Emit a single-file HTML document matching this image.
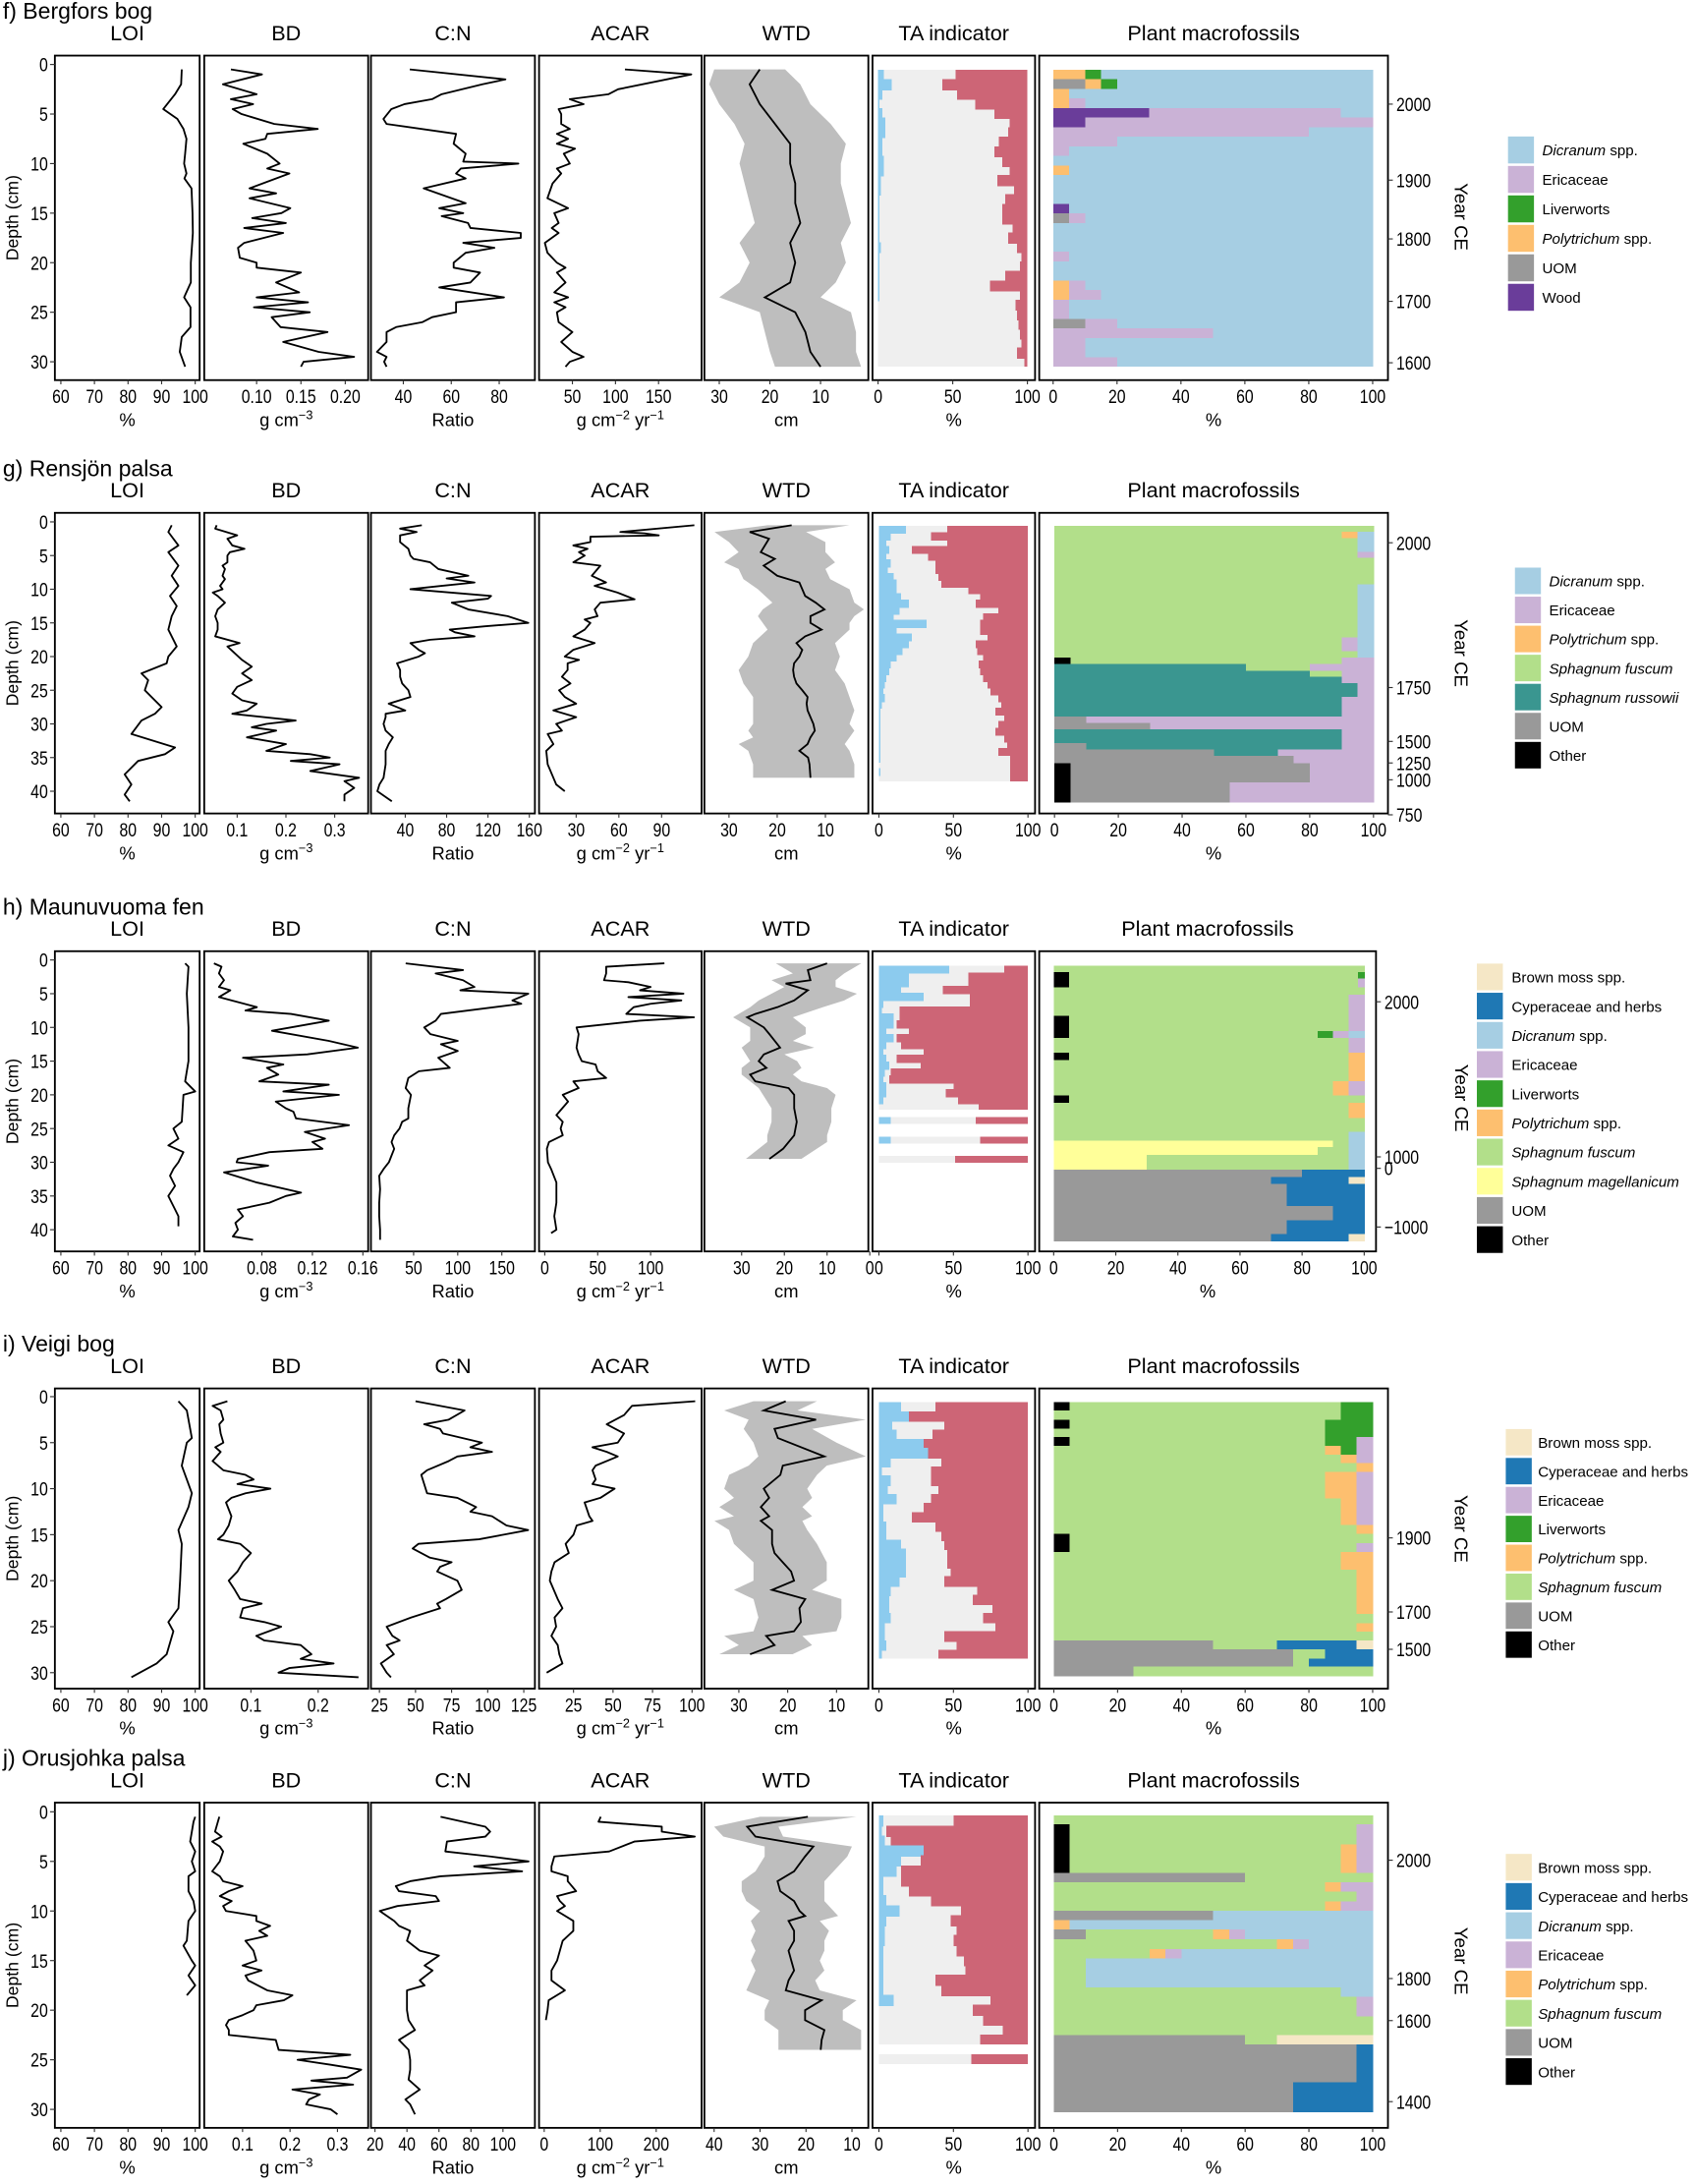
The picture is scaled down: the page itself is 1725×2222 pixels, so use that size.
<!DOCTYPE html>
<html><head><meta charset="utf-8"><title>Peat core profiles</title>
<style>html,body{margin:0;padding:0;background:#fff}svg{display:block}</style></head>
<body>
<svg id="chart" xmlns="http://www.w3.org/2000/svg" width="1725" height="2222" viewBox="0 0 1220 1571.4" preserveAspectRatio="none" font-family="Liberation Sans, Arial, sans-serif"></svg>
<script>
// ---------------- DATA ----------------
const LOITicks=[60,70,80,90,100];
const TATicks=[0,50,100];
const PlantTicks=[0,20,40,60,80,100];
// Row f
const fDepthTicks=[0,5,10,15,20,25,30];
const fBDTicks=[0.10,0.15,0.20]; const fBDLabels=['0.10','0.15','0.20'];
const fCNTicks=[40,60,80]; const fACARTicks=[50,100,150]; const fWTDTicks=[30,20,10];
const fYearDepth=[4.0,11.67,17.6,23.9,30.1]; const fYearLabels=['2000','1900','1800','1700','1600'];
const fLOI=[[0.5,96],[2,95.8],[3,94],[4.5,90.5],[5.5,94.7],[6.5,96.5],[7.5,97.4],[9,97],[10,96.7],[11,97.4],[11.5,96.8],[12.5,98.9],[15,99.2],[17,99.3],[20,98.7],[22,98.7],[23.5,96.7],[24.5,98.6],[26.5,98.6],[27.5,96],[29,95.4],[30.5,97]];
const fBD=[[0.5,0.071],[1,0.106],[2,0.062],[3,0.1],[3.5,0.071],[4,0.096],[4.5,0.073],[5,0.083],[6,0.12],[6.5,0.169],[7,0.112],[7.5,0.11],[8,0.085],[9,0.112],[10,0.126],[10.5,0.112],[11,0.137],[12.5,0.092],[13,0.122],[13.5,0.092],[14.5,0.138],[15,0.128],[15.5,0.095],[16,0.133],[16.5,0.086],[17,0.13],[18,0.086],[18.5,0.079],[19.5,0.081],[20,0.1],[20.5,0.1],[21,0.15],[22,0.122],[23,0.148],[23.5,0.1],[24,0.158],[24.5,0.097],[25,0.16],[25.5,0.117],[26.5,0.127],[27,0.18],[28,0.13],[29,0.17],[29.5,0.21],[30,0.153],[30.5,0.15]];
const fCN=[[0.5,42.7],[1.5,82.6],[2,73],[3,56],[3.5,52],[4,40.5],[4.5,35],[5.5,31.7],[6,33],[7,62],[8,61],[9,66],[9.8,65],[10,88],[10.5,64],[11,62],[11.5,66],[12.5,48.5],[14,66],[14.5,55],[15,65],[15.3,56],[16,67],[16.5,68],[17,89],[17.5,89],[18,65],[18.5,78],[19,66],[20,61],[20.5,61],[21,72],[22,68],[22.5,55],[23.5,82],[24,62],[25,62],[25.5,52],[26,48],[26.5,37],[27,33],[28,33],[29,29],[29.5,33],[30,32],[30.5,33]];
const fACAR=[[0.5,111],[1,188],[2.5,103],[3,92],[3.5,47],[4,63],[4.5,34],[5,37],[6,37],[6.5,47],[7,32],[7.5,45],[8,32],[8.5,53],[9,40],[10,47],[10.5,32],[11,37],[12,27],[13.5,21],[14.5,45],[15,29],[16,34],[16.5,26],[17,34],[18,18],[19,21],[20,32],[20.5,42],[21,32],[22,42],[23,29],[23.5,45],[24,29],[24.5,42],[25,32],[26,34],[27,50],[28,37],[29,50],[29.5,63],[30,47],[30.5,42]];
const fWTDMean=[[0.5,22],[2,24],[4,22],[6,19],[8,16],[10,16],[12,15],[14,15],[16,14],[18,16],[20,15],[22,16],[23.5,21],[25,15],[27,13],[29,12],[30.5,10]];
const fWTDLeft=[[0.5,31],[2,32],[4,30],[6,27],[8,25],[10,26],[12,25],[14,24],[16,23],[18,26],[20,24],[22,26],[23.5,30],[25,22],[27,21],[29,20],[30.5,19]];
const fWTDRight=[[0.5,17],[2,14],[4,12],[6,8],[8,5],[10,6],[12,6],[14,5],[16,4],[18,6],[20,5],[22,7],[23.5,10],[25,4],[27,3],[29,3],[30.5,2]];
const fTARed=[52,43,53,65,78,88,87,81,78,83,88,80,91,85,83,83,90,87,93,96,95,85,75,95,92,93,94,95,96,93,98];
const fTABlue=[4,9,3,1,3,5,5,3,3,4,4,2,2,1,1,1,1,1,2,1,1,1,1,1,0,0,0,0,0,0,0];
const fPlant=[{Pol:10,Liv:5,Dic:85},{UOM:10,Pol:5,Liv:5,Dic:80},{Pol:5,Dic:95},{Pol:5,Eri:5,Dic:90},{Woo:30,Eri:60,Dic:10},{Woo:10,Eri:90},{Eri:80,Dic:20},{Eri:20,Dic:80},{Eri:5,Dic:95},{Dic:100},{Pol:5,Dic:95},{Dic:100},{Dic:100},{Dic:100},{Woo:5,Dic:95},{UOM:5,Eri:5,Dic:90},{Dic:100},{Dic:100},{Dic:100},{Eri:5,Dic:95},{Dic:100},{Dic:100},{Pol:5,Eri:5,Dic:90},{Pol:5,Eri:10,Dic:85},{Eri:5,Dic:95},{Eri:5,Dic:95},{UOM:10,Eri:10,Dic:80},{Eri:50,Dic:50},{Eri:10,Dic:90},{Eri:10,Dic:90},{Eri:20,Dic:80}];
// Row g
const gDepthTicks=[0,5,10,15,20,25,30,35,40];
const gBDTicks=[0.1,0.2,0.3]; const gBDLabels=['0.1','0.2','0.3'];
const gCNTicks=[40,80,120,160]; const gACARTicks=[30,60,90]; const gWTDTicks=[30,20,10];
const gYearDepth=[3.1,24.6,32.6,35.8,38.3,43.5]; const gYearLabels=['2000','1750','1500','1250','1000','750'];
const gLOI=[[0.5,93],[1.5,92],[3.5,95],[4.5,92],[6.5,95],[8,93],[9.5,95],[11,92.5],[12.5,94.5],[14,93],[16,92],[18.5,94.5],[20,92],[21,91.5],[22.5,84],[23.5,86],[25,85],[26,87],[27.5,90],[28.5,88],[29.5,84],[31.5,81],[33.5,94],[34.5,91],[35.5,83],[37.5,79],[39,81],[40.5,79],[41.5,80.5]];
const gBD=[[0.5,0.058],[1,0.055],[2,0.1],[2.5,0.08],[3.5,0.09],[4,0.115],[4.5,0.085],[5,0.08],[6,0.08],[6.5,0.07],[7,0.075],[8,0.07],[8.5,0.075],[9.5,0.065],[10,0.07],[10.5,0.05],[11,0.06],[12,0.075],[13,0.06],[14,0.055],[15,0.06],[16,0.06],[17,0.055],[18,0.105],[18.5,0.08],[19.5,0.095],[20.5,0.11],[21.5,0.13],[22.5,0.11],[23.5,0.13],[24.5,0.1],[25,0.095],[25.5,0.09],[26.5,0.11],[27,0.14],[28,0.12],[28.5,0.09],[29.5,0.22],[30,0.16],[30.5,0.13],[31,0.18],[32,0.12],[33,0.2],[34,0.16],[34.5,0.25],[35,0.29],[35.5,0.21],[36,0.31],[37,0.25],[38,0.35],[38.5,0.32],[39,0.33],[39.5,0.34],[40.5,0.32],[41.5,0.32]];
const gCN=[[0.5,56],[1,35],[1.5,51],[2,35],[3,35],[4,43],[5,45],[5.5,48],[6,64],[7,72],[8,101],[8.4,80],[9,107],[9.5,75],[10,45],[11,123],[11.4,120],[12,85],[13,101],[14,139],[15,159],[15.5,117],[16,83],[16.4,88],[17,107],[17.5,64],[18,45],[19,53],[19.5,59],[20,53],[21,32],[22,35],[23,35],[24,37],[25,43],[26,45],[27,24],[28,40],[28.5,21],[29,21],[30,19],[31,21],[32,28],[33,24],[34,21],[36,21],[38,19],[39,15],[40,13],[41.5,27]];
const gACAR=[[0.5,113],[1.5,61],[1.7,78],[2,88],[2.2,40],[3,40],[3.5,28],[4,38],[4.5,32],[5,36],[6,28],[6.5,47],[8,41],[9,51],[9.5,43],[10.5,59],[11.5,71],[12,47],[13,43],[14,45],[14.5,36],[15,40],[16,36],[17,28],[18,43],[19,28],[20,22],[20.5,32],[21,24],[22,24],[23,20],[24,26],[25,18],[26,22],[27,30],[28,14],[29,30],[30,16],[31,20],[31.5,10],[33,14],[34,9],[36,10],[37,12],[38,14],[39,16],[40,22]];
const gWTDMean=[[0.5,17],[1.5,25.7],[2.5,21.7],[4.5,23.4],[5.5,20.5],[6.5,22.8],[8,20],[9,15.4],[10,14.8],[11,14.2],[12,12],[13,10.2],[14,13.1],[15,13.1],[16,10.8],[17,14.2],[18,16],[19,14.8],[20,15.4],[21,16.5],[22,16.7],[23,16.5],[24,16],[25,14.8],[26,13.7],[27,13.9],[28,13.7],[29,13.1],[30,12.5],[31,12.2],[32,13.1],[33,13.7],[34,15.4],[35,13.6],[36,13.3],[38,13.1]];
const gWTDLeft=[[0.5,22],[1.5,33],[3,30],[4.5,28],[6,31],[7,28],[8.5,27],[10,24],[12,21],[13,23],[14,24],[15,23],[16,22],[18,25],[20,26],[22,28],[24,27],[26,25],[28,25],[30,25],[31,26],[32,25],[33,28],[34,26],[36,25],[38,25]];
const gWTDRight=[[0.5,5],[1.5,14],[3,10],[4.5,10],[6,8],[7,10],[8.5,9],[10,5],[12,4],[13,2],[14,4],[15,5],[16,5],[18,8],[20,7],[22,8],[24,6],[26,5],[28,4],[30,5],[31,4],[32,5],[33,6],[34,5],[36,4],[38,4]];
const gTARed=[46,35,46,22,33,38,38,40,42,60,68,65,80,70,68,68,73,65,66,70,67,68,70,73,75,80,82,78,84,80,78,84,86,80,88,88,88,88];
const gTABlue=[18,8,5,7,5,8,6,10,12,12,15,20,14,10,32,12,22,20,16,12,8,7,5,4,3,4,2,1,1,1,1,1,1,1,1,0,1,0];
const gPlantEdges=[0.56,1.46,2.43,4.45,5.35,9.31,17.15,19.17,20.14,21.12,22.09,22.98,23.96,25.97,28.89,29.86,30.83,32.85,33.82,34.72,35.84,38.68,41.67];
const gPlant=[{Sfu:100},{Sfu:90,Pol:5,Dic:5},{Sfu:95,Dic:5},{Sfu:95,Eri:5},{Sfu:100},{Sfu:95,Dic:5},{Sfu:90,Eri:5,Dic:5},{Sfu:95,Dic:5},{Oth:5,Sfu:85,Eri:10},{Sru:60,Sfu:20,Eri:20},{Sru:80,Sfu:10,Eri:10},{Sru:90,Eri:10},{Sru:95,Eri:5},{Sru:90,Eri:10},{UOM:10,Eri:90},{UOM:30,Eri:70},{Sru:90,Eri:10},{UOM:10,Sru:80,Eri:10},{UOM:50,Sru:20,Eri:30},{UOM:75,Eri:25},{Oth:5,UOM:75,Eri:20},{Oth:5,UOM:50,Eri:45}];
// Row h
const hDepthTicks=[0,5,10,15,20,25,30,35,40];
const hBDTicks=[0.08,0.12,0.16]; const hBDLabels=['0.08','0.12','0.16'];
const hCNTicks=[50,100,150]; const hACARTicks=[0,50,100]; const hWTDTicks=[30,20,10,0];
const hYearDepth=[6.2,29.2,30.9,39.6]; const hYearLabels=['2000','1000','0','\u22121000'];
const hLOI=[[0.5,97],[1,98],[5,97.5],[10,98],[15,98],[18,97],[19.5,100],[20,96.5],[24,96],[25,93.5],[26.5,95],[27.5,92],[28.5,96.5],[30,95],[31,93.5],[32,92.5],[33.5,94],[35,92],[35.5,92.5],[37,94],[38,95],[39.5,95]];
const hBD=[[0.5,0.042],[1,0.048],[2,0.046],[3,0.05],[4,0.046],[4.5,0.055],[5.5,0.046],[7,0.076],[7.5,0.067],[8,0.103],[9,0.133],[10.5,0.088],[12,0.133],[13,0.156],[14,0.116],[14.5,0.065],[15.5,0.097],[16,0.084],[17,0.093],[18,0.078],[18.5,0.133],[19.5,0.097],[20,0.141],[21,0.091],[22,0.099],[22.5,0.105],[23.5,0.107],[24.5,0.149],[25.5,0.114],[26.5,0.13],[27,0.12],[28,0.128],[28.5,0.086],[29.5,0.061],[30,0.06],[30.5,0.085],[31.5,0.05],[33,0.076],[34.5,0.111],[35,0.099],[36,0.086],[37,0.061],[38,0.065],[39,0.059],[40,0.061],[41,0.057],[41.5,0.073]];
const hCN=[[0.5,41],[1.5,106],[2,75],[3,106],[4,119],[4.5,103],[5,180],[6,162],[6.5,172],[8,81],[9,75],[10,62],[11,69],[12,100],[12.5,81],[13.5,100],[14.5,78],[16,91],[16.5,56],[17.5,44],[19,41],[20,47],[22,44],[23.5,44],[24,37],[25,34],[26,28],[27,25],[28,28],[29,25],[30,22],[31,16],[32,11],[34,12],[36,11],[38,11],[40,12],[41.5,12]];
const hACAR=[[0.5,113],[1,58],[2,58],[3,56],[3.3,79],[4,100],[4.5,90],[5,131],[5.5,79],[6,129],[6.5,100],[7,84],[8,77],[8.5,141],[9,90],[10,30],[11,32],[13,30],[14,32],[15,35],[15.5,48],[16.5,50],[17.5,58],[18,27],[19,32],[20,17],[21,22],[23,11],[24,17],[25,15],[26,17],[27,4],[28,2],[30,3],[31,6],[33,11],[36,11],[38,9],[40,11],[40.5,6]];
const hWTDMean=[[0.5,10],[1.5,14.5],[3,13.9],[3.5,19.7],[4.5,14.5],[6,17.7],[7,21.6],[8,26.8],[8.5,28.7],[10,24.8],[11,23.5],[13,21],[14,24.8],[15,26],[16,24.2],[17,28],[18,26.8],[19,19],[20,17.7],[22,17.7],[24,17.1],[26,17.7],[28,20.3],[29.5,23.5]];
const hWTDLeft=[[0.5,22],[2,18],[3,23],[4,20],[5,23],[6,26],[7,28],[8.5,32],[10,28],[11,28],[12,28],[13,30],[14,29],[15,28],[16,30],[17,30],[18,28],[19,26],[20,25],[22,23],[24,23],[26,24],[27,24],[29.5,29]];
const hWTDRight=[[0.5,2],[2,6],[3,8],[4,8],[5,3],[6,6],[7,11],[8.5,18],[10,15],[11,15],[12,18],[13,13],[14,20],[15,17],[16,16],[17,18],[18,16],[19,10],[20,8],[22,9],[24,9],[26,10],[27,10],[29.5,16]];
const hTARed=[84,60,60,43,61,61,14,14,12,20,12,15,30,12,28,8,7,50,45,53,67];
const hTABlue=[47,20,20,15,30,3,2,10,10,5,10,5,3,5,7,4,3,5,5,3,0];
const hTAExtraTop=[23.3,26.2,29.04]; const hTAExtraRed=[65,68,51]; const hTAExtraBlue=[8,8,0];
const hPlantEdges=[0.82,1.79,2.76,4.03,5.15,8.28,10.52,11.57,13.73,14.85,17.99,20.08,21.2,23.43,25.45,26.79,27.76,28.88,31.12,32.17,33.21,34.26,36.5,38.59,40.67,41.72];
const hPlant=[{Sfu:100},{Oth:5,Sfu:93,Liv:2},{Oth:5,Sfu:93,Eri:2},{Sfu:100},{Sfu:95,Eri:5},{Oth:5,Sfu:90,Eri:5},{Oth:5,Sfu:80,Liv:5,Eri:5,Dic:5},{Sfu:95,Eri:5},{Oth:5,Sfu:90,Pol:5},{Sfu:95,Pol:5},{Sfu:90,Pol:5,Eri:5},{Oth:5,Sfu:95},{Sfu:95,Pol:5},{Sfu:100},{Sfu:95,Dic:5},{Sma:90,Sfu:5,Dic:5},{Sma:85,Sfu:10,Dic:5},{Sma:30,Sfu:65,Dic:5},{UOM:80,Cyp:20},{UOM:70,Cyp:25,Bro:5},{UOM:75,Cyp:25},{UOM:75,Cyp:25},{UOM:90,Cyp:10},{UOM:75,Cyp:25},{UOM:70,Cyp:25,Bro:5}];
// Row i
const iDepthTicks=[0,5,10,15,20,25,30];
const iBDTicks=[0.1,0.2]; const iBDLabels=['0.1','0.2'];
const iCNTicks=[25,50,75,100,125]; const iACARTicks=[25,50,75,100]; const iWTDTicks=[30,20,10];
const iYearDepth=[15.35,23.4,27.46]; const iYearLabels=['1900','1700','1500'];
const iLOI=[[0.5,95],[1.5,97.5],[4.5,99],[5,97.5],[7.5,96],[10.5,99],[12,98],[14.5,95],[16,96],[20,95.5],[23,95],[24.5,92],[25.5,93.5],[28,91.5],[29,88.5],[30.5,81]];
const iBD=[[0.5,0.065],[1,0.043],[1.5,0.055],[2.5,0.059],[3,0.053],[4,0.055],[5,0.059],[5.5,0.047],[6,0.055],[7,0.043],[8,0.059],[8.5,0.092],[9,0.104],[9.5,0.08],[10,0.129],[10.5,0.092],[11,0.071],[11.5,0.063],[13,0.071],[14,0.067],[15,0.059],[15.5,0.051],[16,0.084],[17,0.1],[18,0.088],[19,0.08],[20,0.067],[21,0.076],[22,0.084],[22.5,0.116],[23,0.088],[24,0.084],[24.5,0.12],[25,0.145],[26,0.108],[26.5,0.12],[27,0.174],[28,0.19],[28.5,0.174],[29,0.223],[29.5,0.157],[30,0.141],[30.5,0.26]];
const iCN=[[0.5,50],[1.5,84],[2.5,73],[3,56],[3.5,67],[4,69],[5,96],[5.5,88],[6,103],[6.5,79],[7,73],[8,58],[8.5,54],[9.5,56],[10.5,58],[11,79],[12,92],[12.5,88],[13,103],[14,113],[14.5,128],[15,111],[15.5,94],[16,52],[16.5,48],[17.5,60],[18,75],[18.5,67],[19,65],[20,79],[21,82],[22,71],[22.5,65],[23,67],[24,47],[25,30],[26,34],[26.5,39],[27,30],[28,35],[29,26],[30,30],[30.5,33]];
const iACAR=[[0.5,102],[1,62],[2,57],[3,46],[4,57],[5,53],[5.5,37],[6,46],[6.5,53],[7.5,39],[8,37],[9,39],[9.5,37],[10,51],[11,42],[11.5,32],[13,35],[13.5,37],[14,27],[15,25],[16,20],[17,22],[18,13],[19,11],[20,10],[22,15],[23,18],[24,13],[25,14],[26,11],[27,15],[28,16],[29,18],[30,8]];
const iWTDMean=[[0.5,20.4],[1.5,24.9],[2.5,14.2],[3.5,22.7],[4.5,22],[6.5,12.5],[7.5,21],[8.5,21.5],[10,24.9],[11,23.8],[12,25.5],[13,23.8],[13.5,25.5],[14.5,23.2],[16,23.2],[17,22.7],[18,21],[19,19.3],[20,18.7],[21,23.2],[22,16.4],[23,17.6],[24.5,17.3],[25.5,18.7],[26,24.4],[27,22.7],[28,27.7]];
const iWTDLeft=[[0.5,27],[1.5,33],[2.5,28],[3.5,29],[5,27],[6.5,26],[7.5,28],[8.5,32],[10,33],[11,31],[12,34],[13,31],[13.5,35],[14.5,32],[16,31],[18,27],[19,27],[20,27],[21,31],[22,27],[24,26],[25.5,27],[26,33],[27,30],[28,34]];
const iWTDRight=[[0.5,14],[1.5,18],[2.5,4],[3.5,15],[5,10],[6.5,4],[7.5,12],[8.5,14],[10,16],[11,15],[12,17],[13,15],[13.5,17],[14.5,16],[16,14],[18,12],[19,12],[20,12],[21,15],[22,9],[24,9],[25.5,10],[26,17],[27,15],[28,19]];
const iTARed=[38,20,44,36,30,33,42,35,35,40,35,30,22,38,42,44,46,46,48,44,66,63,76,70,78,44,52,40];
const iTABlue=[15,32,9,12,30,45,8,2,8,6,12,3,3,5,5,15,18,18,18,14,8,7,7,8,4,4,5,2];
const iPlantEdges=[0.6,1.51,2.49,3.46,4.37,5.34,6.32,7.23,8.2,11.06,13.92,14.89,15.92,16.89,18.78,23.63,24.61,25.52,26.49,27.46,28.49,29.35,30.38];
const iPlant=[{Oth:5,Sfu:85,Liv:10},{Sfu:90,Liv:10},{Oth:5,Sfu:80,Liv:15},{Sfu:85,Liv:15},{Oth:5,Sfu:80,Liv:10,Eri:5},{Sfu:85,Pol:5,Liv:5,Eri:5},{Sfu:90,Pol:5,Eri:5},{Sfu:95,Pol:5},{Sfu:85,Pol:10,Eri:5},{Sfu:90,Pol:5,Eri:5},{Sfu:95,Pol:5},{Oth:5,Sfu:95},{Oth:5,Sfu:90,Eri:5},{Sfu:90,Pol:10},{Sfu:95,Pol:5},{Sfu:100},{Sfu:95,Pol:5},{Sfu:100},{UOM:50,Sfu:20,Cyp:25,Bro:5},{UOM:75,Sfu:10,Cyp:15},{UOM:75,Sfu:5,Cyp:20},{UOM:25,Sfu:75}];
// Row j
const jDepthTicks=[0,5,10,15,20,25,30];
const jBDTicks=[0.1,0.2,0.3]; const jBDLabels=['0.1','0.2','0.3'];
const jCNTicks=[20,40,60,80,100]; const jACARTicks=[0,100,200]; const jWTDTicks=[40,30,20,10];
const jYearDepth=[4.88,16.81,21.05,29.22]; const jYearLabels=['2000','1800','1600','1400'];
const jLOI=[[0.5,100],[1,99.5],[3,98.5],[4,100],[5,99],[6,100],[6.5,98],[8,98],[9,99.5],[10,100],[11,98],[13,97.5],[13.5,96.5],[15,99],[15.5,100],[16.5,98],[17.5,100],[18.5,97.5]];
const jBD=[[0.5,0.051],[1,0.048],[2,0.042],[2.5,0.056],[3,0.036],[3.5,0.052],[4,0.059],[5,0.052],[6,0.036],[6.5,0.052],[7,0.059],[7.5,0.1],[8,0.071],[8.5,0.052],[9,0.077],[9.5,0.059],[10,0.065],[10.5,0.129],[11,0.129],[11.5,0.158],[12,0.135],[12.5,0.152],[13,0.106],[14,0.123],[15,0.129],[15.5,0.1],[16,0.14],[16.5,0.106],[17,0.112],[18,0.152],[18.5,0.205],[19,0.187],[19.5,0.129],[20,0.123],[20.5,0.1],[21,0.071],[21.5,0.065],[22,0.071],[22.5,0.071],[23,0.17],[24,0.176],[24.5,0.327],[25,0.216],[25.5,0.286],[26,0.35],[26.8,0.32],[27.1,0.245],[27.5,0.333],[28,0.205],[28.5,0.263],[29,0.24],[29.5,0.234],[30,0.286],[30.5,0.3]];
const jCN=[[0.5,61],[1.5,89],[2,92],[2.5,89],[3,65],[4,64],[4.5,92],[5,116],[5.5,82],[6,112],[6.5,61],[7,42],[7.5,33],[8,35],[8.5,58],[9,60],[9.5,34],[10,23],[11,32],[11.5,35],[12,42],[13,40],[14,48],[14.5,60],[15.5,51],[16,56],[17,48],[17.5,51],[18,40],[19,40],[20,40],[21,41],[22,45],[23,35],[24,41],[25,42],[26,42],[27,41],[28,48],[29,39],[29.5,42],[30.5,45]];
const jACAR=[[0.5,101],[1,97],[1.5,210],[2,210],[2.5,269],[3,161],[4,116],[4.5,18],[5.5,13],[6,13],[6.5,42],[7,42],[8,57],[8.5,23],[9,28],[9.5,37],[10,23],[11,52],[12,52],[13,33],[14,28],[15,23],[16,13],[17,13],[18,37],[19,8],[20,6],[21,3]];
const jWTDMean=[[0.5,19.6],[1.5,32.8],[2.5,31],[3.5,18.4],[4.5,20.2],[6,22.6],[7,26.2],[8,25.6],[9,22.6],[10,21.4],[10.5,20.2],[11,23.8],[12,22.6],[13,22.6],[14,23.8],[15,23.2],[16,22.6],[17,23.8],[18,24.4],[19,16.6],[20,20.2],[21,20.2],[22,16],[23,16.6],[24,16.8]];
const jWTDLeft=[[0.5,30],[1.5,40],[2.5,38],[3.5,29],[4.5,29],[6,31],[7,34],[8,34],[9,33],[10,30],[11,32],[12,31],[13,32],[14,31],[15,32],[16,31],[17,32],[18,33],[19,28],[20,29],[21,29],[22,26],[23,26],[24,26]];
const jWTDRight=[[0.5,9],[1.5,26],[2.5,25],[3.5,10],[4.5,11],[6,14],[7,16],[8,16],[9,16],[10,14],[10.5,13],[11,17],[12,15],[13,16],[14,16],[15,17],[16,16],[17,18],[18,17],[19,9],[20,12],[21,12],[22,8],[23,8],[24,8]];
const jTARed=[50,5,8,30,28,15,15,20,35,55,48,52,50,52,57,58,38,42,75,63,70,83,68];
const jTABlue=[3,2,4,30,15,12,3,3,5,14,5,4,4,3,3,3,3,3,10,0,0,0,0];
const jTAExtraTop=[24.45]; const jTAExtraRed=[62]; const jTAExtraBlue=[0];
const jPlantEdges=[0.38,1.28,3.29,6.16,7.11,8.06,9.02,9.97,10.93,11.88,12.83,13.84,14.8,17.71,18.67,20.63,22.49,23.44,27.26,30.28];
const jPlant=[{Sfu:100},{Oth:5,Sfu:90,Eri:5},{Oth:5,Sfu:85,Pol:5,Eri:5},{UOM:60,Sfu:40},{Sfu:85,Pol:5,Eri:10},{Sfu:95,Eri:5},{Sfu:85,Pol:5,Eri:10},{UOM:50,Dic:50},{Pol:5,Dic:95},{UOM:10,Sfu:40,Pol:5,Eri:5,Dic:40},{Sfu:70,Pol:5,Eri:5,Dic:20},{Sfu:30,Pol:5,Eri:5,Dic:60},{Sfu:10,Dic:90},{Sfu:90,Dic:10},{Sfu:95,Eri:5},{Sfu:100},{UOM:60,Sfu:10,Bro:30},{UOM:95,Cyp:5},{UOM:75,Cyp:25}];

// ---------------- STYLE / LAYOUT ----------------
const COL={Dic:'#a6cee3',Eri:'#cab2d6',Liv:'#33a02c',Pol:'#fdbf6f',UOM:'#999999',Woo:'#6a3d9a',Sfu:'#b2df8a',Sru:'#3a9690',Oth:'#000000',Bro:'#f5e7c6',Cyp:'#1f78b4',Sma:'#ffff99'};
const LAB={Dic:[['Dicranum',1],[' spp.',0]],Eri:[['Ericaceae',0]],Liv:[['Liverworts',0]],Pol:[['Polytrichum',1],[' spp.',0]],UOM:[['UOM',0]],Woo:[['Wood',0]],Sfu:[['Sphagnum fuscum',1]],Sru:[['Sphagnum russowii',1]],Oth:[['Other',0]],Bro:[['Brown moss spp.',0]],Cyp:[['Cyperaceae and herbs',0]],Sma:[['Sphagnum magellanicum',1]]};
const PANELS=[{id:'LOI',x0:39.5,x1:143.7,unit:[['%']]},{id:'BD',x0:147,x1:265,unit:[['g cm'],['\u22123',1]]},{id:'CN',x0:267,x1:385,title:'C:N',unit:[['Ratio']]},{id:'ACAR',x0:388,x1:505,unit:[['g cm'],['\u22122',1],[' yr'],['\u22121',1]]},{id:'WTD',x0:507,x1:625,unit:[['cm']]},{id:'TA',x0:628,x1:745,title:'TA indicator',unit:[['%']]},{id:'Plant',x0:748,x1:999,title:'Plant macrofossils',unit:[['%']]}];
const ROWS=[
 {key:'f',title:'f) Bergfors bog',top:40,bot:273.5,d0:46.4,dpx:7.13,depthTicks:fDepthTicks,
  sc:{LOI:[60,43.8,100,140.5],BD:[0.1,184.7,0.2,248.5],CN:[40,290.3,80,359.3],ACAR:[50,412,150,474],WTD:[30,517.7,10,590.6],TA:[0,632,100,739.5],Plant:[0,758,100,988]},
  ticks:{LOI:[LOITicks],BD:[fBDTicks,fBDLabels],CN:[fCNTicks],ACAR:[fACARTicks],WTD:[fWTDTicks],TA:[TATicks],Plant:[PlantTicks]},
  lines:{LOI:fLOI,BD:fBD,CN:fCN,ACAR:fACAR},wtd:[fWTDMean,fWTDLeft,fWTDRight],
  ta:{red:fTARed,blue:fTABlue,start:0.53,step:0.967,xt:[],xr:[],xb:[]},
  plant:{comp:fPlant,start:0.53,step:0.967},order:['Woo','UOM','Pol','Liv','Eri','Dic'],legend:['Dic','Eri','Liv','Pol','UOM','Woo'],
  plantX1:999,years:[fYearDepth,fYearLabels],lg:{x:1085,y:97.8,step:21.2,tx:1110},yearCE:156,ycx:48},
 {key:'g',title:'g) Rensj\u00f6n palsa',top:369,bot:585.3,d0:375.5,dpx:4.845,depthTicks:gDepthTicks,
  sc:{LOI:[60,43.8,100,140.5],BD:[0.1,170.7,0.3,240.9],CN:[40,291.7,160,381],ACAR:[30,414.7,90,476.2],WTD:[30,524.7,10,594.1],TA:[0,632.6,100,739.9],Plant:[0,759,100,988.6]},
  ticks:{LOI:[LOITicks],BD:[gBDTicks,gBDLabels],CN:[gCNTicks],ACAR:[gACARTicks],WTD:[gWTDTicks],TA:[TATicks],Plant:[PlantTicks]},
  lines:{LOI:gLOI,BD:gBD,CN:gCN,ACAR:gACAR},wtd:[gWTDMean,gWTDLeft,gWTDRight],
  ta:{red:gTARed,blue:gTABlue,start:0.56,step:1.0,xt:[],xr:[],xb:[]},
  plant:{comp:gPlant,edges:gPlantEdges},order:['Oth','UOM','Sru','Sfu','Pol','Eri','Dic'],legend:['Dic','Eri','Pol','Sfu','Sru','UOM','Oth'],
  plantX1:999,years:[gYearDepth,gYearLabels],lg:{x:1090,y:408,step:20.9,tx:1115},yearCE:470,ycx:48},
 {key:'h',title:'h) Maunuvuoma fen',top:684.4,bot:900.4,d0:690.7,dpx:4.852,depthTicks:hDepthTicks,
  sc:{LOI:[60,43.8,100,140.5],BD:[0.08,188.5,0.16,261.2],CN:[50,297.7,150,361.2],ACAR:[0,392.1,100,468.3],WTD:[30,533.8,10,595.3],TA:[0,632.6,100,739.9],Plant:[0,758.4,100,981.9]},
  ticks:{LOI:[LOITicks],BD:[hBDTicks,hBDLabels],CN:[hCNTicks],ACAR:[hACARTicks],WTD:[hWTDTicks],TA:[TATicks],Plant:[PlantTicks]},
  lines:{LOI:hLOI,BD:hBD,CN:hCN,ACAR:hACAR},wtd:[hWTDMean,hWTDLeft,hWTDRight],
  ta:{red:hTARed,blue:hTABlue,start:0.82,step:1.017,xt:hTAExtraTop,xr:hTAExtraRed,xb:hTAExtraBlue},
  plant:{comp:hPlant,edges:hPlantEdges},order:['Oth','UOM','Sma','Sfu','Pol','Liv','Eri','Dic','Cyp','Bro'],legend:['Bro','Cyp','Dic','Eri','Liv','Pol','Sfu','Sma','UOM','Oth'],
  plantX1:990.4,years:[hYearDepth,hYearLabels],lg:{x:1062.6,y:692.9,step:21,tx:1088},yearCE:790,ycx:57},
 {key:'i',title:'i) Veigi bog',top:999,bot:1215,d0:1004.9,dpx:6.62,depthTicks:iDepthTicks,
  sc:{LOI:[60,43.8,100,140.5],BD:[0.1,180.6,0.2,229],CN:[25,273.1,125,377],ACAR:[25,412.8,100,498.1],WTD:[30,531.8,10,602.1],TA:[0,632.6,100,739.9],Plant:[0,758.5,100,988]},
  ticks:{LOI:[LOITicks],BD:[iBDTicks,iBDLabels],CN:[iCNTicks],ACAR:[iACARTicks],WTD:[iWTDTicks],TA:[TATicks],Plant:[PlantTicks]},
  lines:{LOI:iLOI,BD:iBD,CN:iCN,ACAR:iACAR},wtd:[iWTDMean,iWTDLeft,iWTDRight],
  ta:{red:iTARed,blue:iTABlue,start:0.6,step:0.996,xt:[],xr:[],xb:[]},
  plant:{comp:iPlant,edges:iPlantEdges},order:['Oth','UOM','Sfu','Pol','Liv','Eri','Cyp','Bro'],legend:['Bro','Cyp','Eri','Liv','Pol','Sfu','UOM','Oth'],
  plantX1:999,years:[iYearDepth,iYearLabels],lg:{x:1083.4,y:1027.8,step:20.8,tx:1107},yearCE:1100,ycx:48},
 {key:'j',title:'j) Orusjohka palsa',top:1297,bot:1531,d0:1303.6,dpx:7.137,depthTicks:jDepthTicks,
  sc:{LOI:[60,43.8,100,140.5],BD:[0.1,174.6,0.3,242.9],CN:[20,269.9,100,362],ACAR:[0,391.7,200,472.3],WTD:[40,514,10,613.2],TA:[0,632.6,100,739.9],Plant:[0,758.5,100,988]},
  ticks:{LOI:[LOITicks],BD:[jBDTicks,jBDLabels],CN:[jCNTicks],ACAR:[jACARTicks],WTD:[jWTDTicks],TA:[TATicks],Plant:[PlantTicks]},
  lines:{LOI:jLOI,BD:jBD,CN:jCN,ACAR:jACAR},wtd:[jWTDMean,jWTDLeft,jWTDRight],
  ta:{red:jTARed,blue:jTABlue,start:0.38,step:1.003,xt:jTAExtraTop,xr:jTAExtraRed,xb:jTAExtraBlue},
  plant:{comp:jPlant,edges:jPlantEdges},order:['Oth','UOM','Sfu','Pol','Eri','Dic','Cyp','Bro'],legend:['Bro','Cyp','Dic','Eri','Pol','Sfu','UOM','Oth'],
  plantX1:999,years:[jYearDepth,jYearLabels],lg:{x:1083.4,y:1333.5,step:21,tx:1107},yearCE:1411,ycx:48}
];

// ---------------- DRAW ----------------
const NS='http://www.w3.org/2000/svg';
const svg=document.getElementById('chart');
function mk(tag,attrs,parent){const e=document.createElementNS(NS,tag);for(const k in attrs)e.setAttribute(k,attrs[k]);(parent||svg).appendChild(e);return e;}
function lin(a){const d0=a[0],p0=a[1],d1=a[2],p1=a[3];return v=>p0+(v-d0)*(p1-p0)/(d1-d0);}
function txt(parent,x,y,s,size,anchor,sx){
  const t=mk('text',{transform:'translate('+x+','+y+') scale('+(sx||1)+',1)','font-size':size,'text-anchor':anchor||'middle',fill:'#000'},parent);
  t.textContent=s;return t;}

const defs=mk('defs',{});
ROWS.forEach(R=>{
  const ys=v=>R.d0+v*R.dpx;
  const row=mk('g',{});
  
  
  const rt=txt(row,2,R.top-26.5,R.title,16.3,'start');
  
  
  PANELS.forEach(P=>{
    const x1=(P.id==='Plant')?R.plantX1:P.x1;
    const g=mk('g',{},row);
    
    
    const ct=txt(g,(P.x0+x1)/2,R.top-11,P.title||P.id,15.3,'middle');
    
    
    const cid='clip-'+R.key+'-'+P.id;
    const cp=mk('clipPath',{id:cid},defs);
    mk('rect',{x:P.x0,y:R.top,width:x1-P.x0,height:R.bot-R.top},cp);
    const bg=mk('rect',{x:P.x0,y:R.top,width:x1-P.x0,height:R.bot-R.top,fill:'#fff'},g);
    
    
    const plot=mk('g',{'clip-path':'url(#'+cid+')'},g);
    const xs=lin(R.sc[P.id]);
    if(R.lines[P.id]){
      const pts=R.lines[P.id].map(p=>xs(p[1]).toFixed(2)+','+ys(p[0]).toFixed(2)).join(' ');
      const pl=mk('polyline',{points:pts,fill:'none',stroke:'#000','stroke-width':1.3,'stroke-linejoin':'round'},plot);
      
      
    }
    if(P.id==='WTD'){
      const [mean,left,right]=R.wtd;
      const pts=left.map(p=>xs(p[1]).toFixed(2)+','+ys(p[0]).toFixed(2)).concat(right.slice().reverse().map(p=>xs(p[1]).toFixed(2)+','+ys(p[0]).toFixed(2))).join(' ');
      const band=mk('polygon',{points:pts,fill:'#bebebe',stroke:'none'},plot);
      
      
      const ml=mk('polyline',{points:mean.map(p=>xs(p[1]).toFixed(2)+','+ys(p[0]).toFixed(2)).join(' '),fill:'none',stroke:'#000','stroke-width':1.3},plot);
      
      
    }
    if(P.id==='TA'){
      const T=R.ta;
      const bins=T.red.map((r,i)=>({t:T.start+i*T.step,h:T.step,r:r,b:T.blue[i],c:i<T.red.length-1}));
      T.xt.forEach((t,i)=>bins.push({t:t,h:1.0,r:T.xr[i],b:T.xb[i],c:false}));
      const tg=mk('g',{'shape-rendering':'crispEdges'},plot);
      bins.forEach(B=>{
        const y0=ys(B.t),hh=B.h*R.dpx+(B.c?1:0);
        const a=mk('rect',{x:xs(0),y:y0,width:xs(100)-xs(0),height:hh,fill:'#efefef'},tg);
        
        
      });
      bins.forEach(B=>{
        const y0=ys(B.t),hh=B.h*R.dpx+(B.c?1:0);
        if(B.b>0){const b=mk('rect',{x:xs(0),y:y0,width:xs(B.b)-xs(0),height:hh,fill:'#8ccbee'},tg);
          
          }
        const c=mk('rect',{x:xs(B.r),y:y0,width:xs(100)-xs(B.r),height:hh,fill:'#cd6576'},tg);
        
        
      });
    }
    if(P.id==='Plant'){
      const PL=R.plant;
      const pg=mk('g',{'shape-rendering':'crispEdges'},plot);
      PL.comp.forEach((cmp,i)=>{
        const t=PL.edges?PL.edges[i]:PL.start+i*PL.step;
        const b=PL.edges?PL.edges[i+1]:PL.start+(i+1)*PL.step;
        const last=i===PL.comp.length-1;
        let acc=0;
        R.order.forEach(k=>{
          const v=cmp[k]||0;if(v<=0)return;
          const r=mk('rect',{x:xs(acc),y:ys(t),width:xs(acc+v)-xs(acc)+0.5,height:ys(b)-ys(t)+(last?0:1),fill:COL[k]},pg);
          
          
          acc+=v;
        });
      });
    }
    const box=mk('rect',{x:P.x0,y:R.top,width:x1-P.x0,height:R.bot-R.top,fill:'none',stroke:'#000','stroke-width':1.3},g);
    
    
    const tk=R.ticks[P.id];
    tk[0].forEach((v,i)=>{
      const x=xs(v);
      const l=mk('line',{x1:x,x2:x,y1:R.bot,y2:R.bot+3,stroke:'#333','stroke-width':0.8},g);
      
      
      const lab=txt(g,x,R.bot+16.5,tk[1]?tk[1][i]:String(v),14,'middle',0.8);
      
      
    });
    const u=mk('text',{x:(P.x0+x1)/2,y:R.bot+33,'font-size':13,'text-anchor':'middle'},g);
    
    
    P.unit.forEach(part=>{const s=mk('tspan',part[1]?{'font-size':9,dy:-5}:(u.childNodes.length?{dy:5}:{}),u);s.textContent=part[0];});
  });
  R.depthTicks.forEach(v=>{
    const y=ys(v);
    const l=mk('line',{x1:36,x2:39.5,y1:y,y2:y,stroke:'#333','stroke-width':0.8},row);
    
    
    const t=txt(row,34.5,y+5,String(v),14,'end',0.8);
    
    
  });
  const dl=mk('text',{transform:'translate(13,'+((R.top+R.bot)/2)+') rotate(-90)','font-size':12.5,'text-anchor':'middle'},row);
  dl.textContent='Depth (cm)';
  
  
  R.years[0].forEach((d,i)=>{
    const y=ys(d);
    const l=mk('line',{x1:R.plantX1,x2:R.plantX1+3.5,y1:y,y2:y,stroke:'#333','stroke-width':0.8},row);
    
    
    const t=txt(row,R.plantX1+6,y+5,R.years[1][i],14,'start',0.8);
    
    
  });
  const yc=mk('text',{transform:'translate('+(R.plantX1+R.ycx)+','+R.yearCE+') rotate(90)','font-size':13.2,'text-anchor':'middle'},row);
  yc.textContent='Year CE';
  
  
  const lgG=mk('g',{},row);
  
  
  R.legend.forEach((k,i)=>{
    const y=R.lg.y+i*R.lg.step;
    const e=mk('g',{},lgG);
    
    
    mk('rect',{x:R.lg.x,y:y,width:19.5,height:R.lg.step-1,fill:COL[k],stroke:'#fff','stroke-width':0.8},e);
    const t=mk('text',{x:R.lg.tx,y:y+R.lg.step/2+3.5,'font-size':10.7},e);
    LAB[k].forEach(p=>{const s=mk('tspan',p[1]?{'font-style':'italic'}:{},t);s.textContent=p[0];});
  });
});
</script>
</body></html>
